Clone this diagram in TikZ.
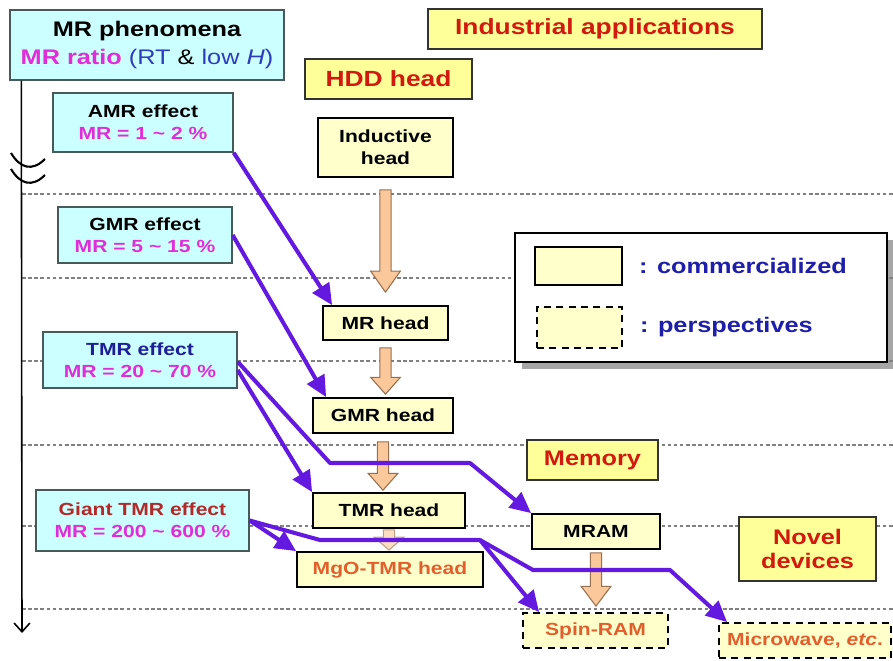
\documentclass[tikz,border=0pt]{standalone}
\usepackage{fontspec}
\setmainfont{Liberation Sans}[FakeStretch=1.2]
\usetikzlibrary{arrows.meta,calc,positioning,shadows}

\definecolor{effectfill}{RGB}{204,255,255}
\definecolor{effectline}{RGB}{70,90,90}
\definecolor{titlefill}{RGB}{255,255,153}
\definecolor{titlered}{RGB}{210,25,15}
\definecolor{devicefill}{RGB}{255,255,204}
\definecolor{ratiomag}{RGB}{225,45,215}
\definecolor{rtblue}{RGB}{45,60,190}
\definecolor{tmrblue}{RGB}{30,30,150}
\definecolor{giantred}{RGB}{180,40,40}
\definecolor{neworange}{RGB}{225,95,45}
\definecolor{keyblue}{RGB}{30,30,170}
\definecolor{routeviolet}{RGB}{100,25,225}
\definecolor{tanfill}{RGB}{250,200,155}
\definecolor{tanline}{RGB}{150,110,80}

\newcommand{\tanarrow}[6][]{%
  \draw[tanarr,#1] let \p1=($(#2.south)+(0,-#4)$), \p2=($(#3.north)+(0,#5)$) in
    (\x1-3.2pt,\y1) -- (\x1+3.2pt,\y1) -- (\x1+3.2pt,\y2+#6) -- (\x1+8.5pt,\y2+#6)
    -- (\x1,\y2) -- (\x1-8.5pt,\y2+#6) -- (\x1-3.2pt,\y2+#6) -- cycle;}

\begin{document}
\begin{tikzpicture}[x=0.02cm, y=-0.02cm, >={Triangle[length=12pt,width=11pt]},
	every node/.style={align=center, inner sep=2pt},
	effect/.style={draw=effectline, line width=0.8pt, fill=effectfill, font=\fontsize{10}{12.5}\selectfont\bfseries},
	title/.style={draw=black!80, line width=0.8pt, fill=titlefill, text=titlered, font=\fontsize{12.5}{14}\selectfont\bfseries},
	device/.style={draw=black, line width=1pt, fill=devicefill, minimum height=0.7cm, font=\fontsize{10}{12.5}\selectfont\bfseries},
	future/.style={device, dashed, dash pattern=on 4pt off 3pt},
	keytext/.style={text=keyblue, font=\fontsize{12}{14}\selectfont\bfseries},
	route/.style={->, draw=routeviolet, line width=2.3pt, line join=round},
	level/.style={gray, line width=0.8pt, dash pattern=on 2pt off 1.5pt},
	tanarr/.style={fill=tanfill, draw=tanline, line width=0.6pt}]
	\useasboundingbox (0,0) rectangle (893,660);
	\foreach \y in {194,278,361,445,526,609}
		\draw[level] (22,\y) -- (893,\y);

	\node[effect, minimum width=5.48cm, minimum height=1.4cm, font=\fontsize{12}{16}\selectfont\bfseries] (phen) at (147,45)
		{MR phenomena\\\textcolor{ratiomag}{MR ratio} {\mdseries\textcolor{rtblue}{(RT} \& \textcolor{rtblue}{low \textit{H})}}};
	\draw[line width=0.9pt, -{Straight Barb[length=5pt,width=9pt]}] ([xshift=0.24cm]phen.south west) -- (22,633);
	\draw[line width=1.2pt] (11,153) .. controls (20,168) and (32,172) .. (45,159);
	\draw[line width=1.2pt] (11,169) .. controls (20,184) and (32,188) .. (45,175);

	\node[effect, minimum width=3.6cm, minimum height=1.18cm] (amr) at (143,122.5) {AMR effect\\\textcolor{ratiomag}{MR = 1 \textasciitilde{} 2 \%}};
	\node[effect, minimum width=3.48cm, minimum height=1.12cm] (gmr) at (145,235) {GMR effect\\\textcolor{ratiomag}{MR = 5 \textasciitilde{} 15 \%}};
	\node[effect, minimum width=3.88cm, minimum height=1.12cm] (tmr) at (140,360) {\textcolor{tmrblue}{TMR effect}\\\textcolor{ratiomag}{MR = 20 \textasciitilde{} 70 \%}};
	\node[effect, minimum width=4.26cm, minimum height=1.22cm] (gtmr) at (142.5,520.5) {\textcolor{giantred}{Giant TMR effect}\\\textcolor{ratiomag}{MR = 200 \textasciitilde{} 600 \%}};

	\node[title, minimum width=6.68cm, minimum height=0.8cm] (indus) at (595,29) {Industrial applications};
	\node[title, minimum width=3.34cm, minimum height=0.8cm] (hdd) at (388.5,79) {HDD head};
	\node[title, minimum width=2.62cm, minimum height=0.8cm, font=\fontsize{12}{14}\selectfont\bfseries] (memory) at (592.5,460) {Memory};
	\node[title, minimum width=2.74cm, minimum height=1.28cm, font=\fontsize{12}{14}\selectfont\bfseries] (novel) at (807.5,549) {Novel\\devices};

	\node[device, minimum width=2.7cm, minimum height=1.18cm] (induct) at (385.5,147.5) {Inductive\\head};
	\node[device, minimum width=2.5cm, minimum height=0.68cm] (mrh) at (385.5,323) {MR head};
	\node[device, minimum width=2.8cm] (gmrh) at (383,415.5) {GMR head};
	\node[device, minimum width=3.04cm] (tmrh) at (389,510.5) {TMR head};
	\node[device, minimum width=3.72cm, text=neworange] (mgoh) at (390,569.5) {MgO-TMR head};
	\node[device, minimum width=2.56cm] (mram) at (596,531.5) {MRAM};
	\node[future, minimum width=2.9cm, text=neworange] (spin) at (595.5,630.5) {Spin-RAM};
	\node[future, minimum width=3.44cm, text=neworange] (micro) at (805,640.5) {Microwave, \textit{etc}.};

	\node[draw=black, line width=0.9pt, fill=white, minimum width=7.44cm, minimum height=2.58cm,
		drop shadow={shadow xshift=4pt, shadow yshift=-4pt, fill=gray, opacity=0.7}] (legend) at (701,297.5) {};
	\node[device, minimum width=1.74cm, minimum height=0.76cm] (keydone) at (578.5,266) {};
	\node[future, minimum width=1.7cm, minimum height=0.82cm] (keyplan) at (579.5,327.5) {};
	\node[keytext, right=0.25cm of keydone] (donetext) {: commercialized};
	\node[keytext, right=0.27cm of keyplan] (plantext) {: perspectives};

	\tanarrow{induct}{mrh}{6.8pt}{7.4pt}{12pt}
	\tanarrow{mrh}{gmrh}{4pt}{1.7pt}{9.6pt}
	\tanarrow{gmrh}{tmrh}{4.5pt}{1.1pt}{9.6pt}
	\tanarrow[opacity=0.6]{tmrh}{mgoh}{0.6pt}{0.6pt}{7.4pt}
	\tanarrow{mram}{spin}{1.7pt}{3.4pt}{11.3pt}

	\coordinate (tmrbend) at (330,463);
	\coordinate (tmrflat) at (470,463);
	\coordinate (gtmrbend) at (320,540);
	\coordinate (gtmrflat) at (480,540);
	\coordinate (lowbend) at (533,570);
	\coordinate (lowflat) at (670,570);
	\draw[route] (amr.south east) -- ([xshift=0.2cm]mrh.north west);
	\draw[route] (gmr.east) -- ([xshift=0.28cm]gmrh.north west);
	\draw[route] ([yshift=-5.7pt]tmr.east) -- (tmrh.north west);
	\draw[route] ([yshift=-1pt]tmr.east) -- (tmrbend) -- (tmrflat) -- (mram.north west);
	\draw[route] (gtmr.east) -- (mgoh.north west);
	\draw[route] (gtmr.east) -- (gtmrbend) -- (gtmrflat) -- ([xshift=0.34cm]spin.north west);
	\draw[route] (gtmrflat) -- (lowbend) -- (lowflat) -- ([xshift=0.18cm]micro.north west);
\end{tikzpicture}
\end{document}
